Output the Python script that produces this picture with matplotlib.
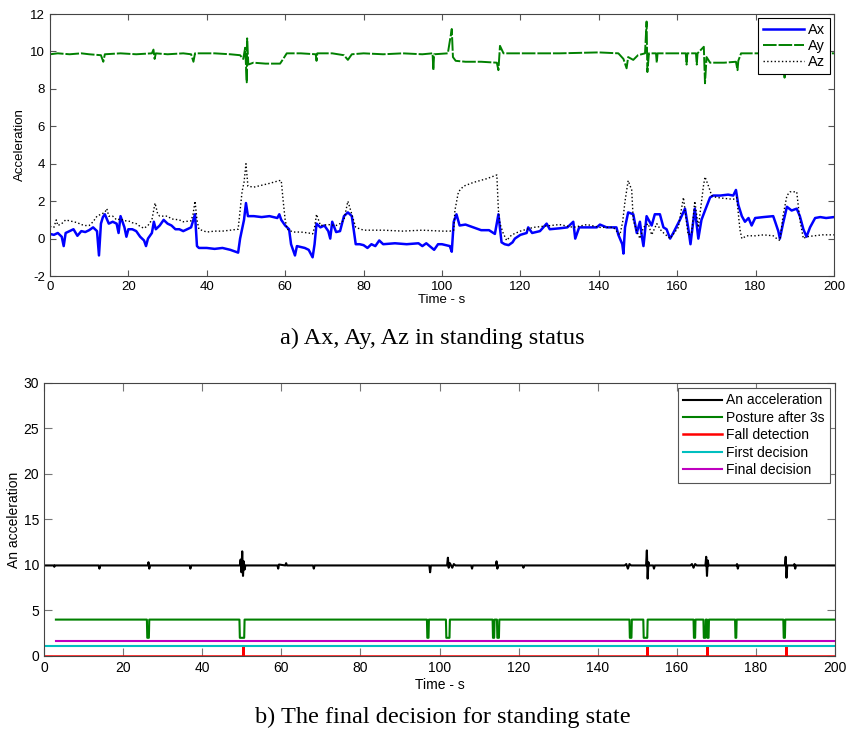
import numpy as np
import matplotlib
matplotlib.use('Agg')
import matplotlib.pyplot as plt

plt.rcParams['font.family'] = ['Liberation Sans', 'DejaVu Sans']
plt.rcParams['axes.unicode_minus'] = False

# ---- a) Ax, Ay, Az (values read off the reference) ----
ax_t = [0, 1, 2, 3, 3.5, 4, 5, 6, 7, 8, 9, 10, 11, 12, 12.5, 13, 13.5, 14, 15, 16,
        17, 17.5, 18, 19, 19.5, 20, 21, 22, 23, 24, 24.5, 25, 26, 26.5, 27, 28, 29, 30,
        31, 32, 33, 34, 35, 36, 37, 37.5, 38, 40, 42, 44, 46, 48, 48.5, 49.5, 50, 50.5,
        52, 54, 56, 58, 58.5, 59, 60, 61, 61.5, 62, 62.5, 63, 64, 65, 66, 67, 67.5, 68,
        69, 70, 71, 71.5, 72, 73, 74, 75, 76, 77, 78, 79, 80, 81, 82, 83, 84, 85, 88,
        91, 94, 95, 96, 98, 99, 100, 101, 102, 102.5, 103, 103.7, 104.5, 106, 108, 110,
        112, 113.5, 114.4, 115.2, 116, 117, 118, 118.6, 120, 121.6, 122, 123, 125, 126.7,
        127.5, 130, 132, 133.5, 134, 135, 137, 139.5, 140.3, 142, 144.5, 145, 146, 146.3,
        146.7, 147.5, 148.8, 149.7, 150.5, 151, 151.4, 152.2, 153.5, 154.3, 155.6, 156.5,
        157.3, 158.2, 159, 160.7, 162, 162.8, 163.4, 164.5, 165.4, 166.2, 167.1, 168.4,
        169.2, 171, 173, 174.3, 175, 175.6, 176.5, 177.3, 178.2, 179, 179.9, 182, 184.5,
        185, 185.8, 186.2, 187, 188, 189.2, 190.5, 191.3, 192.2, 193, 193.9, 195.2, 196.5,
        198, 200]
ax_v = [0.25, 0.2, 0.3, 0.1, -0.4, 0.3, 0.4, 0.5, 0.15, 0.4, 0.35, 0.45, 0.6, 0.4, -0.9,
        0.8, 1.15, 1.3, 0.8, 0.9, 0.8, 0.3, 1.2, 0.6, 0.1, 0.5, 0.5, 0.4, 0.1, -0.1, -0.4,
        0.0, 0.3, 0.9, 0.5, 0.7, 1.0, 0.8, 0.7, 0.5, 0.5, 0.4, 0.5, 0.6, 1.3, -0.4, -0.5,
        -0.5, -0.55, -0.5, -0.6, -0.75, 0.0, 1.0, 1.9, 1.2, 1.2, 1.15, 1.2, 1.1, 1.3, 1.0,
        0.7, 0.5, -0.3, -0.6, -0.9, -0.4, -0.45, -0.5, -0.6, -1.0, -0.3, 0.8, 0.6, 0.7,
        0.4, 0.0, 0.9, 0.35, 0.4, 1.2, 1.4, 1.2, -0.3, -0.3, -0.35, -0.5, -0.3, -0.4, -0.1,
        -0.3, -0.25, -0.3, -0.25, -0.4, -0.25, -0.6, -0.3, -0.3, -0.35, -0.4, -0.7, 0.9,
        1.3, 0.7, 0.75, 0.6, 0.45, 0.45, 0.25, 1.3, -0.2, -0.3, -0.35, -0.2, 0.0, 0.2, 0.3,
        0.6, 0.3, 0.4, 0.8, 0.5, 0.55, 0.6, 0.9, 0.0, 0.6, 0.6, 0.6, 0.75, 0.6, 0.6, 0.2,
        -0.3, -0.8, 0.6, 1.4, 1.3, 0.3, 0.9, 0.1, -0.4, 1.2, 0.7, 1.3, 1.3, 0.6, 0.5, 0.0,
        0.3, 1.0, 1.6, 0.6, -0.3, 1.6, 0.0, 1.0, 1.5, 2.2, 2.3, 2.3, 2.35, 2.3, 2.6, 1.8,
        1.2, 0.9, 1.1, 0.7, 1.1, 1.15, 1.2, 0.9, 0.4, 0.0, 0.8, 1.7, 1.5, 1.6, 1.2, 0.5,
        0.1, 0.6, 1.1, 1.15, 1.1, 1.15]

ay_t = [0, 2, 5, 8, 10, 13, 13.6, 14, 18, 22, 26, 26.4, 26.7, 27, 30, 34, 36, 36.6, 37,
        42, 46, 48.5, 49.3, 49.8, 50.2, 50.3, 50.6, 51.9, 55, 58.7, 59.5, 60.4, 64, 67.8,
        68, 68.2, 72, 75, 76, 77, 80, 85, 90, 95, 97.6, 97.8, 98, 101.5, 102.5, 102.8,
        103.5, 106, 110, 114, 114.4, 114.8, 115.7, 120, 130, 140, 145, 146.3, 147.1, 147.5,
        148.8, 150, 151.8, 152.2, 152.4, 152.8, 154.6, 154.8, 155, 162.2, 162.4, 162.6,
        164.8, 165, 165.2, 166.8, 167.1, 167.5, 168.4, 172, 175, 175.4, 175.6, 176.3, 180,
        185, 187.2, 187.4, 187.6, 190, 195, 200]
ay_v = [9.85, 9.9, 9.85, 9.9, 9.85, 9.8, 9.45, 9.85, 9.9, 9.85, 9.9, 10.1, 9.6, 9.9, 9.85,
        9.9, 9.85, 9.45, 9.9, 9.9, 9.85, 9.8, 9.6, 10.2, 8.35, 10.7, 9.3, 9.4, 9.35, 9.35,
        9.6, 9.9, 9.9, 9.85, 9.5, 9.9, 9.9, 9.8, 9.55, 9.85, 9.9, 9.85, 9.9, 9.85, 9.9, 9.0,
        9.85, 9.9, 11.2, 9.7, 9.5, 9.45, 9.45, 9.4, 9.0, 10.3, 9.9, 9.9, 9.9, 9.95, 9.9, 9.6,
        9.1, 9.7, 9.55, 9.8, 9.9, 11.6, 8.9, 9.9, 9.9, 9.4, 9.9, 9.9, 9.3, 9.9, 9.9, 9.3,
        9.9, 10.25, 8.3, 9.7, 9.4, 9.4, 9.45, 9.0, 9.5, 9.9, 9.9, 9.9, 9.9, 8.6, 9.9, 9.85,
        9.9, 9.9]

az_t = [0, 1, 1.6, 2, 3, 4, 5, 6, 7, 8, 9, 10, 11, 12, 13, 14, 14.5, 15, 16, 17, 18, 19,
        20, 21, 22, 23, 24, 25, 26, 26.8, 27.5, 28, 30, 31, 33, 34, 36, 36.5, 37, 37.5, 38,
        40, 42, 44, 46, 48, 48.5, 49, 49.5, 50, 50.5, 52, 54, 56, 58.5, 59, 59.5, 60, 60.5,
        62, 64, 66, 67, 67.5, 68, 69, 71, 73, 74, 75, 76, 77, 78, 80, 85, 90, 95, 100, 102,
        103, 103.3, 104.2, 105.5, 108, 111.4, 114, 114.4, 114.8, 115.6, 116.5, 117.8, 120,
        123.3, 127.6, 130, 133.5, 137, 140.3, 143.7, 145.4, 146.1, 146.7, 147.5, 148.4,
        148.8, 149.7, 150.5, 151.4, 152.6, 153.5, 154.8, 156, 158.2, 160.3, 161.6, 162.8,
        163.7, 164.5, 165.4, 166.7, 167.1, 168, 168.8, 170, 172, 174.3, 175.2, 176, 176.5,
        177.7, 180, 182, 184.5, 185.4, 186.2, 187, 188, 188.8, 190.5, 191.3, 192.2, 193,
        195, 197, 200]
az_v = [0.65, 0.6, 1.0, 0.7, 0.8, 1.0, 0.95, 0.9, 0.85, 0.75, 0.7, 0.7, 0.9, 1.2, 1.3, 1.4,
        1.6, 1.2, 1.2, 1.0, 1.05, 0.95, 0.95, 0.85, 0.8, 0.65, 0.55, 0.7, 1.0, 1.9, 1.3,
        1.2, 1.2, 1.05, 1.0, 0.9, 0.95, 1.3, 2.0, 1.0, 0.5, 0.35, 0.4, 0.4, 0.45, 0.5, 1.5,
        2.5, 3.0, 4.0, 2.8, 2.75, 2.85, 2.95, 3.1, 3.1, 2.0, 1.0, 0.5, 0.35, 0.35, 0.3,
        0.25, 0.6, 1.3, 0.7, 0.75, 0.7, 0.8, 1.0, 2.0, 1.3, 0.6, 0.45, 0.45, 0.4, 0.45,
        0.4, 0.4, 0.45, 1.5, 2.5, 2.8, 3.0, 3.2, 3.4, 1.5, 0.8, 0.3, -0.1, 0.2, 0.4, 0.6,
        0.7, 0.75, 0.6, 0.75, 0.6, 0.6, 0.2, 0.9, 2.0, 3.1, 2.6, 1.0, 0.4, 0.0, 0.6, 0.8,
        0.2, 0.8, 0.4, 0.0, 0.6, 2.2, 0.2, 0.3, 2.0, 0.6, 2.8, 3.3, 2.8, 2.3, 2.2, 2.15,
        2.1, 2.2, 0.5, 0.0, 0.15, 0.15, 0.2, 0.15, 0.0, -0.1, 1.2, 2.3, 2.5, 2.5, 1.0, 0.0,
        0.1, 0.15, 0.2, 0.2]

# ---- b) decision signals ----
an_t = [0, 2.5, 2.6, 2.7, 13.8, 14, 14.2, 26.3, 26.4, 26.6, 26.8, 36.8, 37, 37.2, 49.5,
        49.7, 49.9, 50.1, 50.3, 50.5, 50.7, 50.9, 59, 59.2, 59.4, 61, 61.2, 61.4, 68, 68.2,
        68.4, 97.4, 97.6, 97.8, 101.9, 102.1, 102.3, 102.6, 103.2, 103.6, 104, 108, 108.2,
        108.4, 114.2, 114.4, 114.6, 114.8, 121, 121.2, 121.4, 146.8, 147.2, 147.6, 148,
        148.4, 152.2, 152.4, 152.6, 152.8, 153, 154, 154.2, 154.4, 163.4, 163.8, 164.2,
        164.6, 165, 167.2, 167.4, 167.6, 167.8, 168, 175, 175.2, 175.4, 175.6, 187.3,
        187.5, 187.7, 187.9, 189.5, 189.7, 189.9, 190.1, 200]
an_v = [9.95, 9.95, 9.8, 9.95, 9.95, 9.6, 9.95, 9.95, 10.3, 9.6, 9.95, 9.95, 9.6, 9.95,
        9.95, 10.6, 9.2, 11.5, 8.8, 10.4, 9.5, 9.95, 9.95, 9.6, 10.05, 9.95, 10.2, 9.95,
        9.95, 9.6, 9.95, 9.95, 9.2, 9.95, 9.95, 10.8, 9.7, 10.2, 9.7, 10.1, 9.95, 9.95,
        9.6, 9.95, 9.95, 10.4, 9.6, 9.95, 9.95, 9.7, 9.95, 9.95, 10.1, 9.6, 10.1, 9.95,
        9.95, 11.6, 8.5, 10.3, 9.95, 9.95, 9.6, 9.95, 9.95, 10.1, 9.7, 10.1, 9.95, 9.95,
        10.9, 8.8, 10.5, 9.95, 9.95, 10.1, 9.6, 9.95, 9.95, 10.9, 8.6, 9.95, 9.95, 10.1,
        9.6, 9.95, 9.95]

posture_start = 3
posture_high = 4
posture_low = 2
dip_start = [26.0, 49.4, 96.8, 101.6, 113.4, 114.5, 148.0, 151.5, 164.2, 166.7, 167.6, 174.7, 186.9]
dip_end = [26.6, 50.7, 97.3, 102.6, 113.9, 115.1, 148.6, 152.6, 164.7, 167.3, 168.1, 175.1, 187.4]

fall_times = [50.3, 152.4, 167.6, 187.5]
first_level = 1.08
final_level = 1.6
final_start = 3

# build step traces from the event lists
post_t, post_v = [posture_start], [posture_high]
for s, e in zip(dip_start, dip_end):
    post_t += [s, s + 0.1, e - 0.1, e]
    post_v += [posture_high, posture_low, posture_low, posture_high]
post_t.append(200)
post_v.append(posture_high)

fall_t, fall_v = [0], [0]
for f in fall_times:
    fall_t += [f, f, f]
    fall_v += [0, 1, 0]
fall_t.append(200)
fall_v.append(0)

fig = plt.figure(figsize=(8.47, 7.31), dpi=100)

# top panel
ax1 = fig.add_axes([0.059, 0.6224, 0.9256, 0.3584])
ax1.plot(ax_t, ax_v, color='#0000ff', lw=1.8, label='Ax')
ax1.plot(ay_t, ay_v, color='#008000', lw=1.4, ls='--', dashes=(7, 1), label='Ay')
ax1.plot(az_t, az_v, color='black', lw=1.0, ls=':', label='Az')
ax1.set_xlim(0, 200)
ax1.set_ylim(-2, 12)
ax1.set_xticks(np.arange(0, 201, 20))
ax1.set_yticks(np.arange(-2, 13, 2))
ax1.tick_params(direction='in', top=True, right=True, labelsize=9.5, length=4, color='#555555')
ax1.set_xlabel('Time - s', fontsize=9.5, labelpad=1)
ax1.set_ylabel('Acceleration', fontsize=9.5, labelpad=3)
leg1 = ax1.legend(loc='upper right', fontsize=10.5, fancybox=False, edgecolor='black',
                  framealpha=1, handlelength=2.8, handletextpad=0.3, borderaxespad=0.3,
                  labelspacing=0.15, borderpad=0.3)
leg1.get_frame().set_linewidth(0.8)
for sp in ax1.spines.values():
    sp.set_color('#444444')

fig.text(0.51, 1 - 338 / 731, 'a) Ax, Ay, Az in standing status', ha='center', va='center',
         family=['Liberation Serif'], fontsize=17.5)

# bottom panel
ax2 = fig.add_axes([0.052, 0.1026, 0.934, 0.3735])
ax2.plot(an_t, an_v, color='black', lw=1.5, label='An acceleration')
ax2.plot(post_t, post_v, color='#008000', lw=1.5, label='Posture after 3s')
ax2.plot(fall_t, fall_v, color='#ff0000', lw=1.8, label='Fall detection')
ax2.plot([0, 200], [first_level, first_level], color='#00bfbf', lw=1.5, label='First decision')
ax2.plot([final_start, 200], [final_level, final_level], color='#bf00bf', lw=1.5,
         label='Final decision')
ax2.set_xlim(0, 200)
ax2.set_ylim(0, 30)
ax2.set_xticks(np.arange(0, 201, 20))
ax2.set_yticks(np.arange(0, 31, 5))
ax2.tick_params(direction='in', top=True, right=True, labelsize=10, length=6, color='#777777')
ax2.set_xlabel('Time - s', fontsize=10, labelpad=2)
ax2.set_ylabel('An acceleration', fontsize=10, labelpad=2)
leg2 = ax2.legend(loc='upper right', fontsize=10, fancybox=False, edgecolor='#555555',
                  framealpha=1, handlelength=2.8, borderaxespad=0.35, labelspacing=0.25,
                  handletextpad=0.3)
leg2.get_frame().set_linewidth(0.8)
for sp in ax2.spines.values():
    sp.set_color('#444444')

fig.text(0.523, 1 - 717 / 731, 'b) The final decision for standing state', ha='center',
         va='center', family=['Liberation Serif'], fontsize=17.5)

fig.savefig('out.png', dpi=100)
